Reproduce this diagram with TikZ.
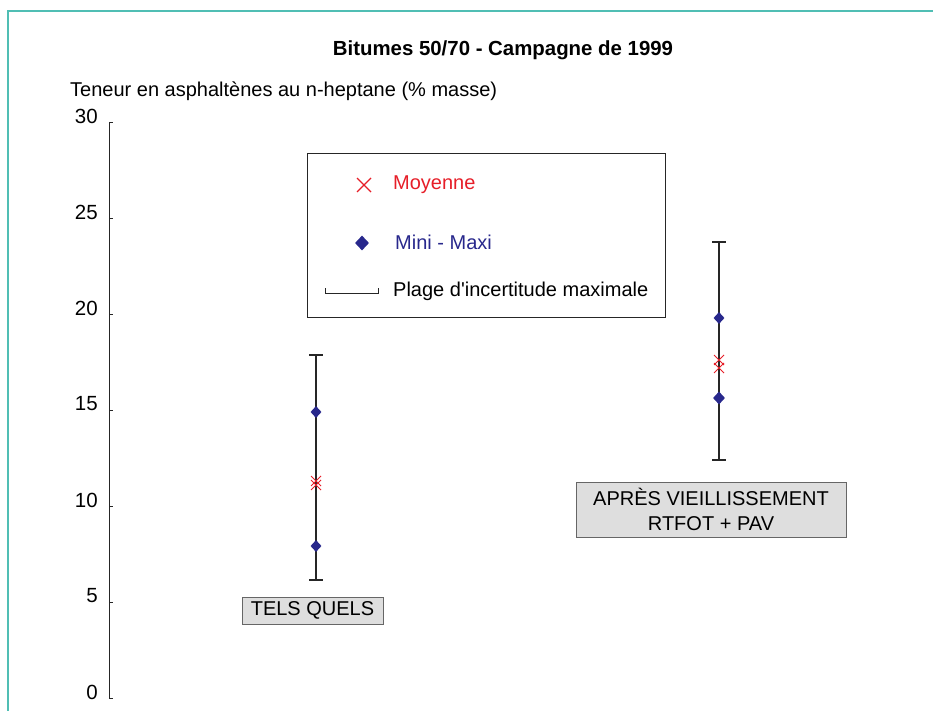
\documentclass[tikz,border=0pt]{standalone}
\usepackage{fontspec}
\setmainfont{Liberation Sans}
\usetikzlibrary{shapes.geometric}
\definecolor{frameteal}{RGB}{80,190,180}
\definecolor{mred}{RGB}{230,30,40}
\definecolor{mblue}{RGB}{40,40,140}
\definecolor{boxgray}{RGB}{222,222,222}
\tikzset{
  lbl/.style={inner sep=0pt, font=\fontsize{20}{22}\selectfont},
  tlbl/.style={inner sep=0pt, anchor=east, font=\fontsize{20.5}{22}\selectfont},
  diam/.style={diamond, fill=mblue, draw=none, inner sep=0pt, minimum width=11pt, minimum height=12pt},
  xmark/.style={draw=mred, line width=0.9pt},
  barline/.style={line width=1.3pt, black!85},
  barcap/.style={line width=2pt, black!85},
  catbox/.style={draw=black!60, fill=boxgray, line width=0.8pt, inner sep=0pt, font=\fontsize{20}{24.5}\selectfont, align=center},
}
\begin{document}
\begin{tikzpicture}[x=1pt,y=-1pt]
\useasboundingbox (0,0) rectangle (933,711);
% frame
\draw[frameteal, line width=2pt] (8,711) -- (8,11) -- (933,11);
% title
\node[inner sep=0pt, font=\bfseries\fontsize{20.4}{22}\selectfont] (title) at (503,50) {Bitumes 50/70 - Campagne de 1999};
\node[lbl, anchor=west] (ytitle) at (70,91) {Teneur en asphaltènes au n-heptane (\% masse)};
% axis
\coordinate (atop) at (109,122);
\coordinate (abot) at (109,698);
\draw[line width=0.9pt, black!85] (atop) -- (abot);
\foreach \v in {0,5,...,30}{
  \draw[line width=0.9pt, black!85] (109,{698-\v*19.2}) -- (113,{698-\v*19.2});
  \node[tlbl] (t\v) at (98,{692-\v*19.2}) {\v};
}
% legend
\node[draw=black!85, line width=0.8pt, minimum width=358pt, minimum height=164pt, inner sep=0pt] (legend) at (486,235) {};
\draw[xmark, line width=1.1pt] (357,178) -- (371,192) (357,192) -- (371,178);
\node[lbl, anchor=west, text=mred] (lmoy) at (393,185) {Moyenne};
\node[diam, minimum width=14pt, minimum height=15pt] (ldiam) at (362,243) {};
\node[lbl, anchor=west, text=mblue] (lmm) at (395,242) {Mini - Maxi};
\draw[line width=0.9pt, black!85] (325,288) -- (325,293) -- (378,293) -- (378,288);
\node[lbl, anchor=west] (lplage) at (393,291) {Plage d\textquotesingle incertitude maximale};
% left bar
\coordinate (l1) at (316,355);
\coordinate (l2) at (316,580);
\draw[barline] (l1) -- (l2);
\draw[barcap] (309,355) -- (323,355) (309,580) -- (323,580);
\node[diam] (ld1) at (316,412) {};
\node[diam] (ld2) at (316,546) {};
\draw[xmark] (311,476) -- (321,486) (311,486) -- (321,476);
\draw[xmark] (311,480) -- (321,490) (311,490) -- (321,480);
% right bar
\coordinate (r1) at (719,242);
\coordinate (r2) at (719,460);
\draw[barline] (r1) -- (r2);
\draw[barcap] (712,242) -- (726,242) (712,460) -- (726,460);
\node[diam] (rd1) at (719,318) {};
\node[diam, minimum width=12pt, minimum height=13pt] (rd2) at (719,398) {};
\draw[xmark] (714,355) -- (724,365) (714,365) -- (724,355);
\draw[xmark] (714,363) -- (724,373) (714,373) -- (724,363);
% category boxes
\node[catbox, minimum width=141pt, minimum height=27pt] (tels) at (312.5,610.5) {TELS QUELS};
\node[catbox, minimum width=270pt, minimum height=55pt] (apres) at (711,509.5) {APRÈS VIEILLISSEMENT\\RTFOT + PAV};
\end{tikzpicture}
\end{document}
